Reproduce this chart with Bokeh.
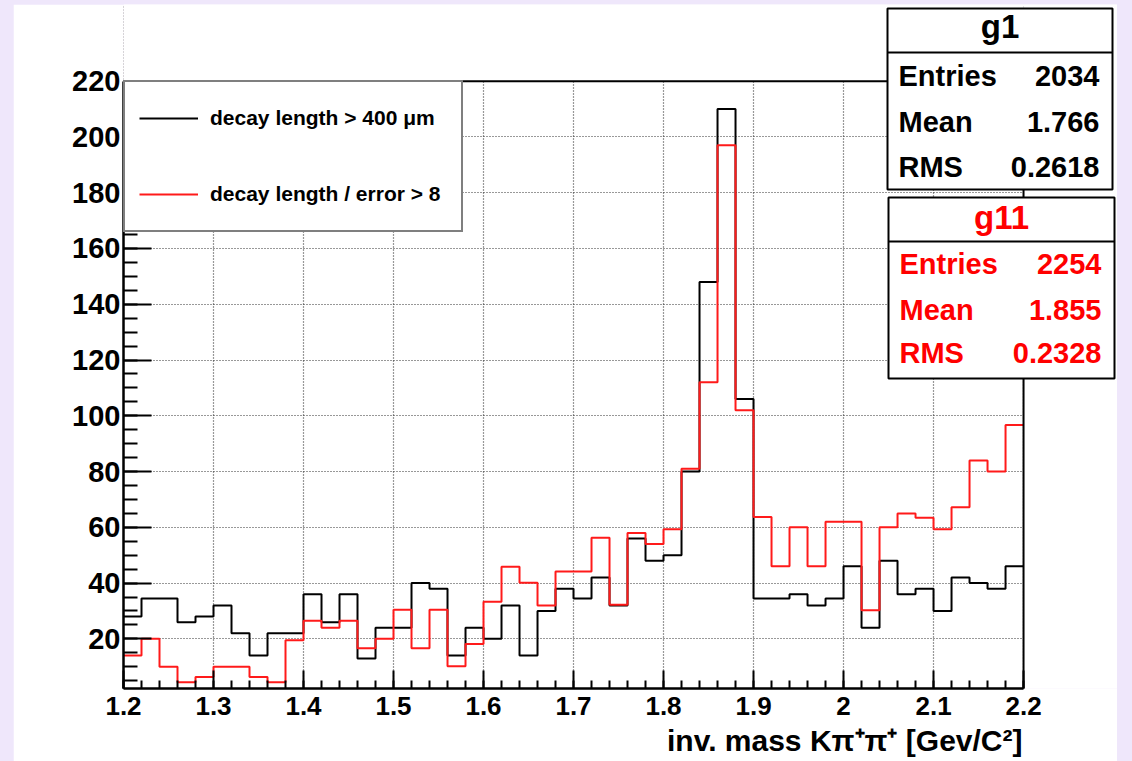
import numpy as np
from bokeh.plotting import figure
from bokeh.layouts import column
from bokeh.models import (Range1d, SingleIntervalTicker, Legend, LegendItem, Label,
                          BoxAnnotation, ColumnDataSource, Title)
from bokeh.embed import file_html
from bokeh.resources import INLINE

# ---- data ----
x_min, x_max, n_bins = 1.2, 2.2, 50
y_top_tick = 220
black_counts = [28, 34.5, 34.5, 26, 28, 32, 22, 14, 22, 22,
                36, 26, 36, 13, 24, 24, 40, 38, 14, 24,
                20, 32, 14, 30, 38, 34.5, 42, 32, 56, 48,
                50, 80, 148, 210, 106, 34.5, 34.5, 36, 32, 34.5,
                46, 24, 48, 36, 38, 30, 42, 40, 38, 46]
red_counts = [14, 20, 10, 4.4, 6.3, 10, 10, 6.3, 4.4, 19.5,
              26.5, 24, 26.5, 16.6, 20, 30.4, 16.6, 30.4, 10.2, 18.2,
              33.3, 45.9, 40.1, 32, 44.2, 44.2, 56.3, 32.2, 58, 54,
              59.3, 81, 112, 197, 102, 63.7, 46, 60, 46, 62,
              62, 30.3, 60, 65, 63.4, 59.3, 67.2, 84, 80, 96.7]
legend_labels = ["decay length > 400 \u03bcm", "decay length / error > 8"]
g1_title = "g1"
g1_names = ["Entries", "Mean", "RMS"]
g1_values = ["2034", "1.766", "0.2618"]
g11_title = "g11"
g11_names = ["Entries", "Mean", "RMS"]
g11_values = ["2254", "1.855", "0.2328"]
x_title = "inv. mass K\u03c0\u207a\u03c0\u207a [Gev/C\u00b2]"

edges = np.linspace(x_min, x_max, n_bins + 1)
src_black = ColumnDataSource(dict(x=edges, y=black_counts + [black_counts[-1]]))
src_red = ColumnDataSource(dict(x=edges, y=red_counts + [red_counts[-1]]))

FONT = "Liberation Sans"
LAVENDER = "#efe7fb"

# the frame extends right/up so the stat boxes (which overhang the axes box) are not clipped
y_min = 2.2
x_end = 2.3044
y_end = 247.5

p = figure(width=1104, height=757, output_backend="svg", toolbar_location=None,
           x_range=Range1d(x_min, x_end), y_range=Range1d(y_min, y_end),
           min_border_left=110, min_border_right=0, min_border_top=0, min_border_bottom=73)
p.background_fill_color = "white"
p.border_fill_color = "white"
p.outline_line_color = None

# axes
p.xaxis.ticker = SingleIntervalTicker(interval=0.1, num_minor_ticks=5)
p.yaxis.ticker = SingleIntervalTicker(interval=20, num_minor_ticks=4)
p.xaxis.bounds = (x_min - 1e-4, x_max + 1e-4)
p.yaxis.bounds = (y_min, y_top_tick + 1e-3)
for ax in (p.xaxis, p.yaxis):
    ax.axis_line_width = 2.5
    ax.axis_line_color = "black"
    ax.major_tick_out = 0
    ax.minor_tick_out = 0
    ax.major_tick_line_width = 2
    ax.minor_tick_line_width = 2
    ax.major_label_text_font = FONT
    ax.major_label_text_font_style = "bold"
    ax.major_label_text_color = "black"
p.xaxis.major_label_text_font_size = "26px"
p.yaxis.major_label_text_font_size = "29px"
p.xaxis.major_tick_in = 18
p.xaxis.minor_tick_in = 8
p.xaxis.major_label_standoff = 8
p.yaxis.major_tick_in = 28
p.yaxis.minor_tick_in = 14
p.yaxis.major_label_standoff = 3

# grid
for g in (p.xgrid, p.ygrid):
    g.grid_line_color = "#333333"
    g.grid_line_dash = "1 2"
    g.grid_line_width = 1.2

# white cover outside the axes box (hides grid lines beyond 2.2 / above 220)
p.quad(left=[x_max, x_min], right=[x_end, x_max], bottom=[y_min, y_top_tick],
       top=[y_end, y_end], fill_color="white", line_color=None)

# histograms
r_black = p.step("x", "y", source=src_black, mode="after", line_color="black", line_width=2)
r_red = p.step("x", "y", source=src_red, mode="after", line_color="#ff1a1a", line_width=2)

# top and right sides of the axes box
p.line(x=[x_min, x_max, x_max], y=[y_top_tick, y_top_tick, y_min], line_color="black", line_width=2)

legend = Legend(items=[LegendItem(label=legend_labels[0], renderers=[r_black]),
                       LegendItem(label=legend_labels[1], renderers=[r_red])],
                location=(0, 456), margin=0, padding=14, spacing=32,
                glyph_width=59, glyph_height=44, label_height=44, label_width=237,
                label_standoff=12, border_line_color="black", border_line_width=2,
                background_fill_color="white", background_fill_alpha=1,
                label_text_font=FONT, label_text_font_style="bold",
                label_text_font_size="21px", label_text_color="black")
p.add_layout(legend)

# stat boxes (screen units relative to the frame's bottom-left)
def stat_box(left, right, bottom, top, sep, title, names, vals, color, title_y, row_ys):
    p.add_layout(BoxAnnotation(left=left, right=right, bottom=bottom, top=top,
                               left_units="screen", right_units="screen",
                               bottom_units="screen", top_units="screen",
                               fill_color="white", fill_alpha=1,
                               line_color="black", line_width=2, line_alpha=1))
    p.add_layout(BoxAnnotation(left=left, right=right, bottom=sep - 1, top=sep + 1,
                               left_units="screen", right_units="screen",
                               bottom_units="screen", top_units="screen",
                               fill_color="black", fill_alpha=1, line_alpha=0))
    p.add_layout(Label(x=(left + right) / 2, y=title_y, x_units="screen", y_units="screen",
                       text=title, text_align="center", text_baseline="alphabetic",
                       text_font=FONT, text_font_style="bold", text_font_size="33px",
                       text_color=color))
    for nm, v, yy in zip(names, vals, row_ys):
        p.add_layout(Label(x=left + 11, y=yy, x_units="screen", y_units="screen",
                           text=nm, text_align="left", text_baseline="alphabetic",
                           text_font=FONT, text_font_style="bold", text_font_size="29px",
                           text_color=color))
        p.add_layout(Label(x=right - 13, y=yy, x_units="screen", y_units="screen",
                           text=v, text_align="right", text_baseline="alphabetic",
                           text_font=FONT, text_font_style="bold", text_font_size="29px",
                           text_color=color))

stat_box(764, 989, 499, 680, 636, g1_title, g1_names, g1_values, "black", 662, [613, 567, 522])
stat_box(765, 991, 310, 491, 447, g11_title, g11_names, g11_values, "#ff0000", 471, [425, 379, 336])

# x axis title, right-aligned under the axis end
p.add_layout(Title(text=x_title, align="right", offset=95, standoff=8,
                   text_font=FONT, text_font_style="bold", text_font_size="30px",
                   text_color="black"), "below")

page = column(p, styles={"background-color": LAVENDER,
                         "padding": "4px 15px 0px 13px"})

open("out.html", "w").write(file_html(page, INLINE))
